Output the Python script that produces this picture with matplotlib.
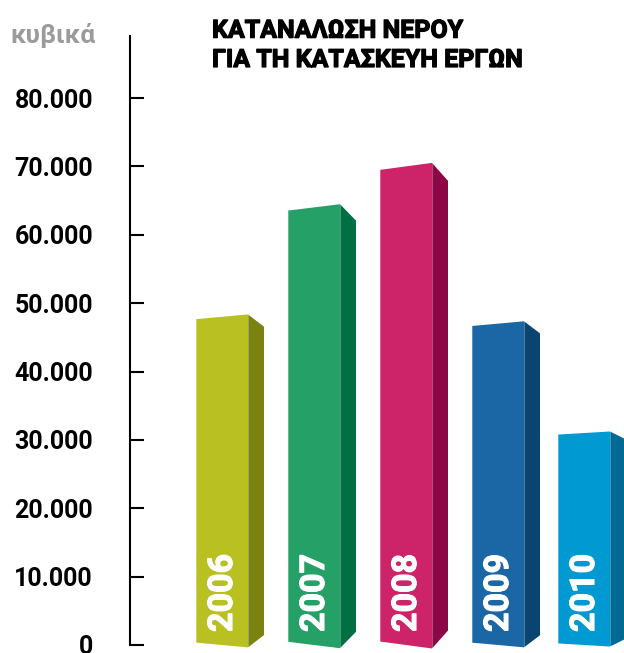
import matplotlib
matplotlib.use('Agg')
import matplotlib.pyplot as plt
import matplotlib.patheffects as pe
from matplotlib.patches import Polygon

# data
years = ['2006', '2007', '2008', '2009', '2010']
values = [48000, 64000, 70000, 47000, 31000]
front_colors = ['#B9C021', '#25A066', '#CC2369', '#1B66A5', '#0199D1']
side_colors = ['#7A8212', '#007043', '#8C0746', '#0A4470', '#006A94']
yticks = [0, 10000, 20000, 30000, 40000, 50000, 60000, 70000, 80000]
title = 'ΚΑΤΑΝΑΛΩΣΗ ΝΕΡΟΥ\nΓΙΑ ΤΗ ΚΑΤΑΣΚΕΥΗ ΕΡΓΩΝ'
unit = 'κυβικά'

plt.rcParams['font.family'] = ['Roboto', 'DejaVu Sans']

W, H = 624, 653
fig = plt.figure(figsize=(W / 100, H / 100), dpi=100)
ax = fig.add_axes([130 / W, 8 / H, (W - 130) / W, 609 / H])

px_y = 10000 / 68.375          # value units per pixel
ax.set_ylim(0, 609 * px_y)
ax.set_xlim(-1.0, -1.0 + 494 / 92)

xpos = [0, 1, 2, 3, 3.935]
half = 26 / 92
depth = 16 / 92

for x, v, fc, sc, yr in zip(xpos, values, front_colors, side_colors, years):
    d = 0.0073 * v   # slant of the front face
    s = 0.0375 * v   # perspective drop of the side face
    x0, x1 = x - half, x + half
    front = Polygon([(x0, d), (x1, -d), (x1, v + d), (x0, v - d)],
                    closed=True, facecolor=fc, edgecolor='none', clip_on=False)
    side = Polygon([(x1, -d), (x1 + depth, -d + s), (x1 + depth, v + d - s), (x1, v + d)],
                   closed=True, facecolor=sc, edgecolor='none', clip_on=False)
    ax.add_patch(side)
    ax.add_patch(front)
    # thin light edges
    ax.plot([x0, x0], [d, v - d], color='white', alpha=0.35, lw=0.6, clip_on=False)
    ax.plot([x1, x1], [-d, v + d], color='white', alpha=0.35, lw=0.6, clip_on=False)
    ax.text(x + 10 / 92, 13 * px_y, yr, rotation=90, rotation_mode='anchor',
            ha='left', va='baseline', color='white', fontsize=24.5, fontweight='bold',
            path_effects=[pe.withStroke(linewidth=0.8, foreground='white')])

for sp in ['top', 'right', 'bottom']:
    ax.spines[sp].set_visible(False)
ax.spines['left'].set_linewidth(1.5)
ax.set_xticks([])
ax.set_yticks(yticks)
ax.set_yticklabels([f'{t:,}'.replace(',', '.') for t in yticks])
ax.tick_params(axis='y', direction='in', length=10, width=1.5, pad=26.6,
               labelsize=18)
for lab in ax.get_yticklabels():
    lab.set_fontweight('bold')

fig.text(10 / W, 1 - 43 / H, unit, color='#9B9B9B', fontsize=19, fontweight='bold',
         ha='left', va='baseline')
fig.text(212 / W, 1 - 67 / H, title, color='black', fontsize=18, fontweight='bold',
         ha='left', va='baseline', linespacing=1.28,
         path_effects=[pe.withStroke(linewidth=0.9, foreground='black')])

fig.savefig('out.png', dpi=100)
